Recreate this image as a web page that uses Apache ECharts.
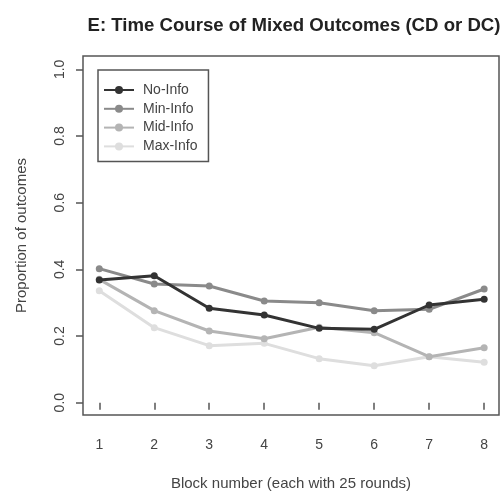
<!DOCTYPE html>
<html>
<head>
<meta charset="utf-8">
<script src="https://cdn.jsdelivr.net/npm/echarts@6/dist/echarts.min.js"></script>
<style>html,body{margin:0;padding:0;background:#fff}#c{width:501px;height:491px}</style>
</head>
<body>
<div id="c"></div>
<script>
var blocks = [1, 2, 3, 4, 5, 6, 7, 8];
var yTicks = [0, 0.2, 0.4, 0.6, 0.8, 1.0];
var seriesNames = ['No-Info', 'Min-Info', 'Mid-Info', 'Max-Info'];
var noInfo  = [0.368, 0.381, 0.283, 0.263, 0.223, 0.220, 0.293, 0.310];
var minInfo = [0.402, 0.356, 0.350, 0.305, 0.300, 0.276, 0.280, 0.341];
var midInfo = [0.370, 0.276, 0.215, 0.192, 0.226, 0.210, 0.138, 0.165];
var maxInfo = [0.336, 0.225, 0.171, 0.178, 0.132, 0.111, 0.138, 0.121];
var colors = ['#333333', '#8a8a8a', '#b4b4b4', '#dedede'];

function pairs(v){ return blocks.map(function(b,i){ return [b, v[i]]; }); }
var values = [noInfo, minInfo, midInfo, maxInfo];
var series = [];
for (var k = 3; k >= 0; k--) {
  series.push({
    name: seriesNames[k], type: 'line', data: pairs(values[k]),
    symbol: 'circle', symbolSize: 7, z: 10 - k,
    lineStyle: {color: colors[k], width: 3},
    itemStyle: {color: colors[k]},
    emphasis: {disabled: true}, animation: false
  });
}
var chart = echarts.init(document.getElementById('c'));
chart.setOption({
  animation: false,
  title: {
    text: 'E: Time Course of Mixed Outcomes (CD or DC)',
    left: 289, top: 11, textAlign: 'center',
    textStyle: {fontFamily: 'Liberation Sans', fontSize: 18.6, fontWeight: 'bold', color: '#222'}
  },
  legend: {
    data: seriesNames, orient: 'vertical', left: 98, top: 70,
    padding: [13, 11, 8, 5], itemGap: 4.8, itemWidth: 30, itemHeight: 10,
    borderColor: '#555', borderWidth: 1.5,
    textStyle: {fontFamily: 'Liberation Sans', fontSize: 14, color: '#444', padding: [0,0,0,4]}
  },
  grid: {left: 83, right: 2, top: 56, bottom: 76, show: true, borderColor: '#555', borderWidth: 1.5,
    containLabel: false, outerBoundsMode: 'none'},
  xAxis: {
    type: 'value', min: 0.704, max: 8.27,
    name: 'Block number (each with 25 rounds)', nameLocation: 'middle', nameGap: 61,
    nameTextStyle: {fontFamily: 'Liberation Sans', fontSize: 15, color: '#444'},
    axisLine: {show: false},
    axisTick: {show: true, length: 7, customValues: blocks, lineStyle: {color: '#555', width: 1.5}},
    axisLabel: {customValues: blocks, margin: 23, fontFamily: 'Liberation Sans', fontSize: 14, color: '#444'},
    splitLine: {show: false}
  },
  yAxis: {
    type: 'value', min: -0.037, max: 1.04,
    name: 'Proportion of outcomes', nameLocation: 'middle', nameGap: 54,
    nameTextStyle: {fontFamily: 'Liberation Sans', fontSize: 15, color: '#444'},
    axisLine: {show: false},
    axisTick: {show: true, length: 7, customValues: yTicks, lineStyle: {color: '#555', width: 1.5}},
    axisLabel: {customValues: yTicks, rotate: 90, margin: 16, fontFamily: 'Liberation Sans', fontSize: 14, color: '#444',
      formatter: function(v){ return v.toFixed(1); }},
    splitLine: {show: false}
  },
  series: series
});
</script>
</body>
</html>
